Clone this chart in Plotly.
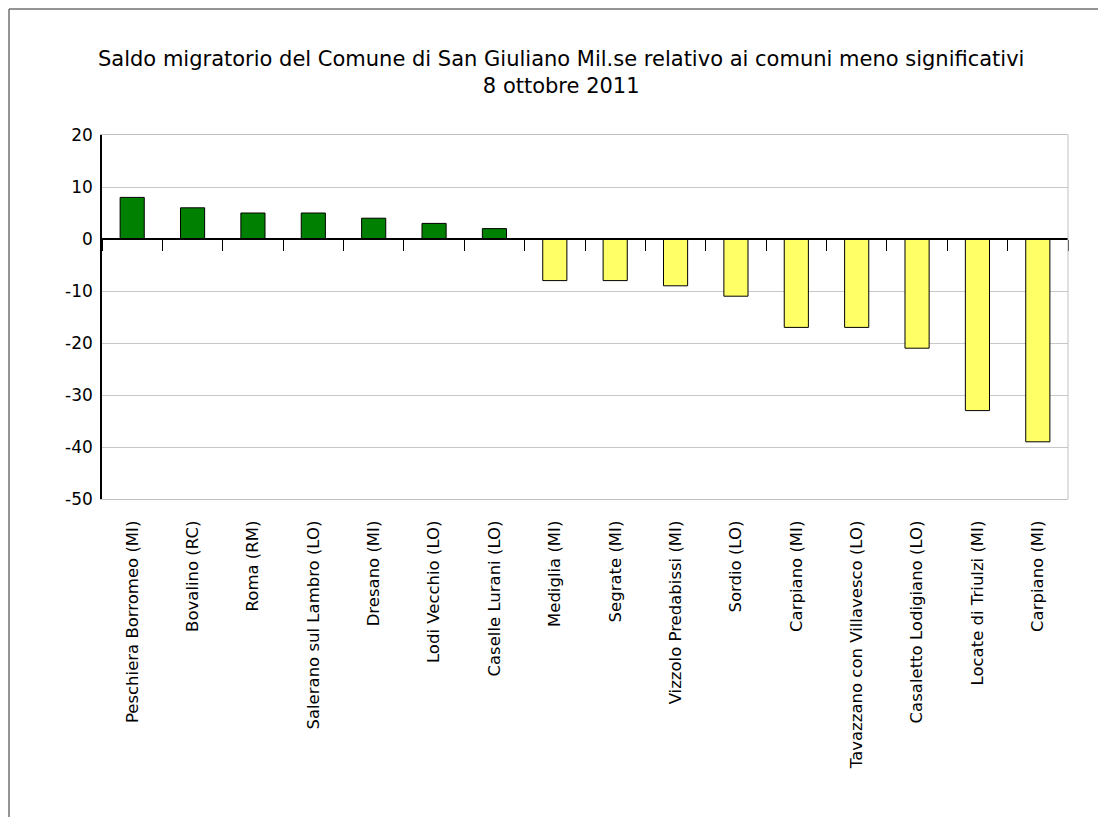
import plotly.graph_objects as go

categories = [
    "Peschiera Borromeo (MI)", "Bovalino (RC)", "Roma (RM)", "Salerano sul Lambro (LO)",
    "Dresano (MI)", "Lodi Vecchio (LO)", "Caselle Lurani (LO)", "Mediglia (MI)",
    "Segrate (MI)", "Vizzolo Predabissi (MI)", "Sordio (LO)", "Carpiano (MI)",
    "Tavazzano con Villavesco (LO)", "Casaletto Lodigiano (LO)", "Locate di Triulzi (MI)",
    "Carpiano (MI)",
]
values = [8, 6, 5, 5, 4, 3, 2, -8, -8, -9, -11, -17, -17, -21, -33, -39]
y_ticks = [20, 10, 0, -10, -20, -30, -40, -50]
y_tick_text = ["20", "10", "0", "-10", "-20", "-30", "-40", "-50"]

title_line1 = "Saldo migratorio del Comune di San Giuliano Mil.se relativo ai comuni meno significativi"
title_line2 = "8 ottobre 2011"

GREEN = "#008000"
YELLOW = "#ffff66"

# page body has an 8px margin; figure occupies 8..1106 x 8..817
OFF = 8
W, H = 1106 - OFF, 817 - OFF
L, R, T, B = 102 - OFF, 38, 135 - OFF, 318
pw, ph = W - L - R, H - T - B
YMIN, YMAX = -50, 20

idx = list(range(len(categories)))
colors = [GREEN if v >= 0 else YELLOW for v in values]

fig = go.Figure()
fig.add_trace(go.Bar(
    x=idx, y=values, width=0.4,
    marker=dict(color=colors, line=dict(color="#000000", width=1)),
    showlegend=False, hoverinfo="skip",
))
# invisible trace for the zero-line axis
fig.add_trace(go.Scatter(x=[None], y=[None], xaxis="x2", yaxis="y",
                         showlegend=False, hoverinfo="skip"))

font = "DejaVu Sans, Verdana, sans-serif"


def px_x(px):
    return (px - OFF - L) / pw


def px_y(py):
    return (H - B - (py - OFF)) / ph


fig.update_layout(
    width=W, height=H,
    margin=dict(l=L, r=R, t=T, b=B),
    paper_bgcolor="white", plot_bgcolor="white",
    font=dict(family=font, color="#000000"),
    xaxis=dict(
        range=[-0.5, len(categories) - 0.5],
        tickmode="array", tickvals=idx, ticktext=categories,
        tickangle=-90, tickfont=dict(size=16.5),
        ticks="", ticklabelstandoff=14,
        showgrid=False, zeroline=False,
        showline=True, linecolor="#c0c0c0", linewidth=1, mirror=True,
    ),
    xaxis2=dict(
        overlaying="x", anchor="free",
        position=(0 - YMIN) / (YMAX - YMIN),
        range=[-0.5, len(categories) - 0.5],
        tickmode="array", tickvals=[i - 0.5 for i in range(len(categories) + 1)],
        showticklabels=False, ticks="outside", ticklen=11, tickwidth=1, tickcolor="#000000",
        showgrid=False, zeroline=False,
        showline=True, linecolor="#000000", linewidth=1.5,
    ),
    yaxis=dict(
        range=[YMIN, YMAX],
        tickmode="array", tickvals=y_ticks, ticktext=y_tick_text,
        tickfont=dict(size=17), ticks="", ticklabelstandoff=4,
        showgrid=True, gridcolor="#c8c8c8", gridwidth=1,
        zeroline=False,
        showline=True, linecolor="#000000", linewidth=1.5,
    ),
    annotations=[
        dict(text=title_line1 + "<br>" + title_line2, xref="paper", yref="paper",
             x=px_x(561), y=px_y(73), yanchor="middle", xanchor="center",
             showarrow=False, font=dict(size=21, family=font), align="center"),
    ],
    shapes=[
        # right border of plot area
        dict(type="line", xref="paper", yref="paper", x0=1, x1=1, y0=0, y1=1,
             line=dict(color="#c0c0c0", width=1)),
        # outer frame (top and left)
        dict(type="line", xref="paper", yref="paper",
             x0=px_x(9), x1=px_x(1110), y0=px_y(9), y1=px_y(9),
             line=dict(color="#707070", width=1.5)),
        dict(type="line", xref="paper", yref="paper",
             x0=px_x(9), x1=px_x(9), y0=px_y(9), y1=px_y(830),
             line=dict(color="#707070", width=1.5)),
    ],
)

fig.write_html("out.html")
